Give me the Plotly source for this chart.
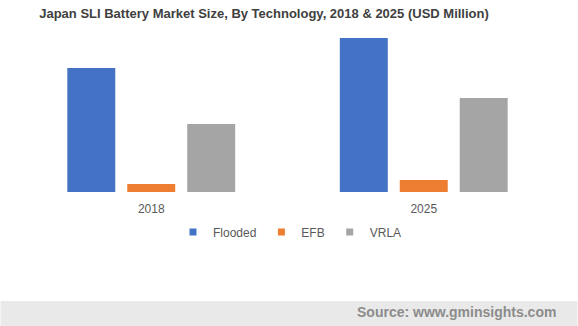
import plotly.graph_objects as go

years = ["2018", "2025"]
flooded = [620, 770]
efb = [40, 60]
vrla = [340, 470]
series_names = ["Flooded", "EFB", "VRLA"]
colors = ["#4472C4", "#ED7D31", "#A5A5A5"]

fig = go.Figure()
for name, vals, col in zip(series_names, [flooded, efb, vrla], colors):
    fig.add_trace(go.Bar(name=name, x=years, y=vals, showlegend=False,
                         marker=dict(color=col, line=dict(width=0))))
# legend entries with small square symbols
for name, col in zip(series_names, colors):
    fig.add_trace(go.Scatter(name=name, x=[None], y=[None], mode="markers",
                             marker=dict(symbol="square", size=7, color=col), hoverinfo="skip"))

L, R, T, B = 14.5, 17.5, 30, 134
ph = 326 - T - B
pw = 578 - L - R

def px_y(y):
    return (326 - B - y) / ph

def px_x(x):
    return (x - L) / pw

fig.add_shape(type="rect", xref="paper", yref="paper",
              x0=px_x(0), x1=px_x(578), y0=px_y(326), y1=px_y(301),
              fillcolor="#E9E9E9", line=dict(width=0), layer="below")
fig.add_annotation(xref="paper", yref="paper", x=px_x(558), y=px_y(312),
                   xanchor="right", yanchor="middle", showarrow=False,
                   text="<b>Source: www.gminsights.com</b>",
                   font=dict(family="Arial, Liberation Sans", size=14, color="#8C8C8C"))

fig.update_layout(
    width=578, height=326,
    margin=dict(l=L, r=R, t=T, b=B, pad=0),
    paper_bgcolor="white", plot_bgcolor="white",
    barmode="group", bargap=0.34, bargroupgap=0.2,
    title=dict(text="<b>Japan SLI Battery Market Size, By Technology, 2018 & 2025 (USD Million)</b>",
               x=264 / 578, xanchor="center", y=1 - 13 / 326, yanchor="middle",
               font=dict(family="Arial, Liberation Sans", size=13, color="#404040")),
    xaxis=dict(showline=False, showgrid=False, ticks="", ticklabelstandoff=8,
               tickfont=dict(family="Arial, Liberation Sans", size=12, color="#595959")),
    yaxis=dict(range=[0, 810], visible=False, showgrid=False, zeroline=False),
    legend=dict(orientation="h", x=px_x(290), xanchor="center", y=px_y(232), yanchor="middle",
                font=dict(family="Arial, Liberation Sans", size=12, color="#595959"),
                itemwidth=30, tracegroupgap=0, bgcolor="rgba(0,0,0,0)"),
    font=dict(family="Arial, Liberation Sans"),
)

fig.write_html("out.html")
